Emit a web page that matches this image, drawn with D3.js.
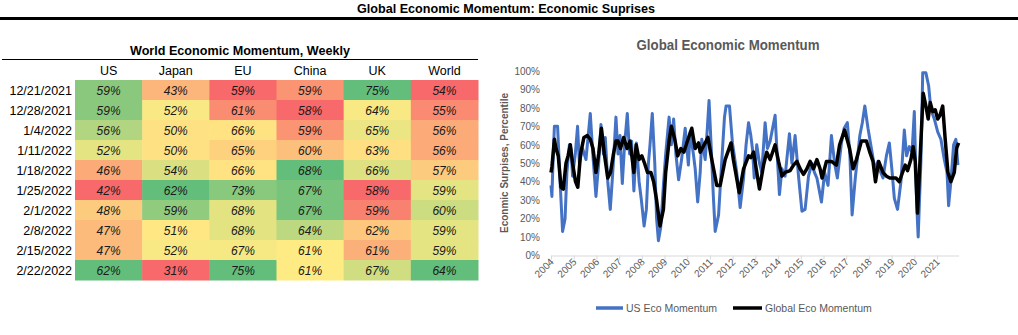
<!DOCTYPE html>
<html><head><meta charset="utf-8">
<script src="https://cdn.jsdelivr.net/npm/d3@7"></script>
<style>
body{margin:0;background:#fff;}
svg{display:block;font-family:"Liberation Sans",Arial,sans-serif;}
</style>
</head><body>
<svg id="c" width="1018" height="335"></svg>
<script>
// ---------- DATA ----------
const tableDates = ["12/21/2021","12/28/2021","1/4/2022","1/11/2022","1/18/2022","1/25/2022","2/1/2022","2/8/2022","2/15/2022","2/22/2022"];
const tableCountries = ["US","Japan","EU","China","UK","World"];
const tableUS    = [59,59,56,52,46,42,48,47,47,62];
const tableJapan = [43,52,50,50,54,62,59,51,52,31];
const tableEU    = [59,61,66,65,66,73,68,68,67,75];
const tableChina = [59,58,59,60,68,67,67,64,61,61];
const tableUK    = [75,64,65,63,66,58,59,62,61,67];
const tableWorld = [54,55,56,56,57,59,60,59,59,64];

const yearTicks = [2004,2005,2006,2007,2008,2009,2010,2011,2012,2013,2014,2015,2016,2017,2018,2019,2020,2021];
const pctTicks = [0,10,20,30,40,50,60,70,80,90,100];
const seriesNames = ["US Eco Momentum","Global Eco Momentum"];

// [decimal year, percentile]
const usMomentum = [[2004.00,38],[2004.04,32],[2004.10,55],[2004.15,70],[2004.29,70],[2004.40,40],[2004.51,13],[2004.62,20],[2004.70,45],[2004.81,60],[2004.88,58],[2004.95,43],[2005.07,55],[2005.17,70],[2005.25,50],[2005.39,58],[2005.54,52],[2005.73,77],[2005.84,55],[2005.98,32],[2006.10,50],[2006.20,71],[2006.31,55],[2006.39,64],[2006.50,40],[2006.61,25],[2006.72,45],[2006.86,75],[2006.95,55],[2007.04,65],[2007.14,39],[2007.24,60],[2007.36,77],[2007.46,55],[2007.55,62],[2007.65,35],[2007.76,61],[2007.88,40],[2007.98,30],[2008.10,16],[2008.20,25],[2008.29,50],[2008.36,60],[2008.46,77],[2008.57,50],[2008.65,20],[2008.73,8],[2008.83,15],[2008.95,38],[2009.05,55],[2009.20,75],[2009.30,60],[2009.40,74],[2009.50,55],[2009.62,41],[2009.75,52],[2009.91,69],[2010.05,49],[2010.13,67],[2010.27,55],[2010.35,47],[2010.46,29],[2010.57,45],[2010.64,63],[2010.79,52],[2010.89,70],[2010.96,84],[2011.05,60],[2011.15,32],[2011.23,13],[2011.38,22],[2011.52,51],[2011.64,75],[2011.71,81],[2011.86,81],[2011.99,61],[2012.18,45],[2012.33,26],[2012.48,42],[2012.59,60],[2012.70,72],[2012.80,65],[2012.87,58],[2012.95,42],[2013.06,60],[2013.18,50],[2013.28,45],[2013.43,72],[2013.53,58],[2013.65,62],[2013.87,76],[2013.94,59],[2014.06,33],[2014.17,47],[2014.31,43],[2014.50,66],[2014.61,50],[2014.75,65],[2014.90,43],[2015.05,24],[2015.19,25],[2015.34,43],[2015.49,50],[2015.60,45],[2015.71,42],[2015.85,33],[2015.91,29],[2016.05,45],[2016.20,38],[2016.35,65],[2016.49,50],[2016.61,42],[2016.79,61],[2016.91,69],[2017.05,72],[2017.16,55],[2017.26,22],[2017.40,42],[2017.60,65],[2017.71,72],[2017.82,81],[2017.96,69],[2018.11,58],[2018.26,47],[2018.40,51],[2018.52,45],[2018.62,42],[2018.77,54],[2018.90,61],[2019.01,47],[2019.12,31],[2019.26,25],[2019.41,40],[2019.56,68],[2019.66,54],[2019.78,59],[2019.90,56],[2020.00,78],[2020.10,29],[2020.17,10],[2020.29,51],[2020.37,99],[2020.51,99],[2020.63,92],[2020.73,79],[2020.88,74],[2021.03,67],[2021.17,63],[2021.32,52],[2021.44,45],[2021.51,27],[2021.61,40],[2021.73,60],[2021.83,63],[2021.92,49]];

const globalMomentum = [[2004.00,45],[2004.04,48],[2004.15,63],[2004.22,58],[2004.32,54],[2004.44,37],[2004.54,36],[2004.66,50],[2004.75,54],[2004.85,60],[2004.95,50],[2005.08,40],[2005.18,37],[2005.30,55],[2005.45,64],[2005.60,65],[2005.73,63],[2005.85,58],[2005.98,45],[2006.10,55],[2006.22,69],[2006.35,55],[2006.50,42],[2006.62,45],[2006.75,55],[2006.86,62],[2006.95,62],[2007.06,58],[2007.20,64],[2007.35,58],[2007.48,62],[2007.65,45],[2007.75,60],[2007.88,52],[2008.00,54],[2008.12,50],[2008.25,45],[2008.40,45],[2008.52,40],[2008.65,30],[2008.80,16],[2008.95,25],[2009.05,45],[2009.20,62],[2009.30,70],[2009.45,63],[2009.58,54],[2009.72,58],[2009.85,56],[2009.98,61],[2010.20,69],[2010.35,58],[2010.50,61],[2010.57,56],[2010.79,61],[2010.91,64],[2011.08,52],[2011.30,38],[2011.45,38],[2011.67,52],[2011.93,61],[2012.03,52],[2012.29,34],[2012.48,47],[2012.70,54],[2012.80,53],[2012.92,56],[2013.09,43],[2013.18,36],[2013.36,49],[2013.50,56],[2013.65,52],[2013.87,60],[2014.02,51],[2014.17,43],[2014.31,45],[2014.53,46],[2014.68,49],[2014.83,51],[2014.97,47],[2015.12,44],[2015.27,47],[2015.41,51],[2015.56,47],[2015.71,52],[2015.85,47],[2015.94,42],[2016.13,51],[2016.35,51],[2016.57,49],[2016.71,60],[2016.93,68],[2017.15,58],[2017.30,47],[2017.45,52],[2017.67,62],[2017.89,62],[2018.04,56],[2018.18,51],[2018.29,40],[2018.43,51],[2018.62,45],[2018.77,43],[2018.92,42],[2019.04,42],[2019.19,42],[2019.34,40],[2019.48,45],[2019.60,49],[2019.70,46],[2019.85,52],[2019.95,59],[2020.04,51],[2020.14,23],[2020.26,54],[2020.39,88],[2020.51,81],[2020.61,74],[2020.70,83],[2020.81,78],[2020.92,79],[2021.03,74],[2021.13,76],[2021.25,81],[2021.36,63],[2021.48,45],[2021.61,40],[2021.76,45],[2021.86,58],[2021.95,61]];

// ---------- DRAW ----------
const svg = d3.select("#c");
svg.append("rect").attr("width",1018).attr("height",335).attr("fill","#fff");

// Main title
svg.append("text").attr("x",506).attr("y",13).attr("text-anchor","middle")
  .attr("font-size",13).attr("font-weight","bold").attr("fill","#000")
  .attr("textLength",298).attr("lengthAdjust","spacingAndGlyphs")
  .text("Global Economic Momentum: Economic Suprises");
svg.append("rect").attr("x",0).attr("y",17).attr("width",1018).attr("height",3).attr("fill","#000");

// ---------- TABLE ----------
const tbl = svg.append("g");
tbl.append("text").attr("x",240).attr("y",55).attr("text-anchor","middle")
  .attr("font-size",13).attr("font-weight","bold")
  .attr("textLength",220).attr("lengthAdjust","spacingAndGlyphs")
  .text("World Economic Momentum, Weekly");
tbl.append("line").attr("x1",2).attr("x2",478).attr("y1",59.5).attr("y2",59.5).attr("stroke","#000").attr("stroke-width",1);

const cols = [tableUS,tableJapan,tableEU,tableChina,tableUK,tableWorld];
const colX = d3.scaleBand().domain(tableCountries).range([75,478]);
const rowY = d3.scaleBand().domain(tableDates).range([80,280]);

tbl.selectAll("text.hdr").data(tableCountries).join("text").attr("class","hdr")
  .attr("x",d=>colX(d)+colX.bandwidth()/2).attr("y",75).attr("text-anchor","middle")
  .attr("font-size",12.5).attr("fill","#000").text(d=>d);

tbl.selectAll("text.dt").data(tableDates).join("text").attr("class","dt")
  .attr("x",72).attr("y",d=>rowY(d)+rowY.bandwidth()/2+4.5).attr("text-anchor","end")
  .attr("font-size",12.5).attr("fill","#000").text(d=>d);

cols.forEach((vals,ci)=>{
  const sorted = vals.slice().sort(d3.ascending);
  const color = d3.scaleLinear()
    .domain([d3.min(vals), d3.quantile(sorted,0.5), d3.max(vals)])
    .range(["#F8696B","#FFEB84","#63BE7B"]).interpolate(d3.interpolateRgb);
  const name = tableCountries[ci];
  const g = tbl.append("g");
  g.selectAll("rect").data(vals).join("rect")
    .attr("x",colX(name)).attr("y",(d,i)=>rowY(tableDates[i]))
    .attr("width",colX.bandwidth()+0.5).attr("height",rowY.bandwidth()+0.5)
    .attr("fill",d=>color(d));
  g.selectAll("text").data(vals).join("text")
    .attr("x",colX(name)+colX.bandwidth()/2).attr("y",(d,i)=>rowY(tableDates[i])+rowY.bandwidth()/2+4.5)
    .attr("text-anchor","middle").attr("font-size",12).attr("font-style","italic").attr("fill","#1a1a1a")
    .text(d=>d+"%");
});

// ---------- LINE CHART ----------
const x = d3.scaleLinear().domain([2004, 2021.95]).range([551, 958.6]);
const y = d3.scaleLinear().domain([0,100]).range([255.5, 71]);
const gray = "#595959";

svg.append("text").attr("x",728).attr("y",50).attr("text-anchor","middle")
  .attr("font-size",14).attr("font-weight","bold").attr("fill",gray)
  .attr("textLength",183).attr("lengthAdjust","spacingAndGlyphs")
  .text("Global Economic Momentum");

// y axis labels
const yAx = svg.append("g").attr("transform","translate(551,0)")
  .call(d3.axisLeft(y).tickValues(pctTicks).tickFormat(d=>d+"%").tickSize(0).tickPadding(11));
yAx.select(".domain").remove();
yAx.selectAll("text").attr("font-size",10).attr("fill",gray).attr("font-family","Liberation Sans, Arial, sans-serif");

svg.append("text").attr("transform","translate(508,163) rotate(-90)").attr("text-anchor","middle")
  .attr("font-size",10).attr("font-weight","bold").attr("fill",gray)
  .text("Econmic Surpises, Percentile");

// x axis
const xAx = svg.append("g").attr("transform","translate(0,255.5)")
  .call(d3.axisBottom(x).tickValues(yearTicks).tickFormat(d3.format("d")).tickSizeInner(4).tickSizeOuter(0));
xAx.select(".domain").attr("stroke","#D9D9D9");
xAx.selectAll(".tick line").attr("stroke","#D9D9D9");
xAx.selectAll("text").attr("font-size",10).attr("fill",gray)
  .attr("font-family","Liberation Sans, Arial, sans-serif")
  .attr("text-anchor","end").attr("dy",null).attr("y",0)
  .attr("transform","translate(3,7) rotate(-45)");

const line = d3.line().x(d=>x(d[0])).y(d=>y(d[1]));
svg.append("path").datum(usMomentum).attr("d",line).attr("fill","none")
  .attr("stroke","#4472C4").attr("stroke-width",3).attr("stroke-linejoin","round");
svg.append("path").datum(globalMomentum).attr("d",line).attr("fill","none")
  .attr("stroke","#000").attr("stroke-width",3.5).attr("stroke-linejoin","round");

// legend
const leg = [{n:seriesNames[0],c:"#4472C4",x1:596,x2:623},{n:seriesNames[1],c:"#000",x1:733,x2:762}];
const lg = svg.append("g");
leg.forEach(l=>{
  lg.append("line").attr("x1",l.x1).attr("x2",l.x2).attr("y1",308).attr("y2",308)
    .attr("stroke",l.c).attr("stroke-width",3.5);
  lg.append("text").attr("x",l.x2+3).attr("y",311.5).attr("font-size",10.5).attr("fill",gray).text(l.n);
});
</script>
</body></html>
